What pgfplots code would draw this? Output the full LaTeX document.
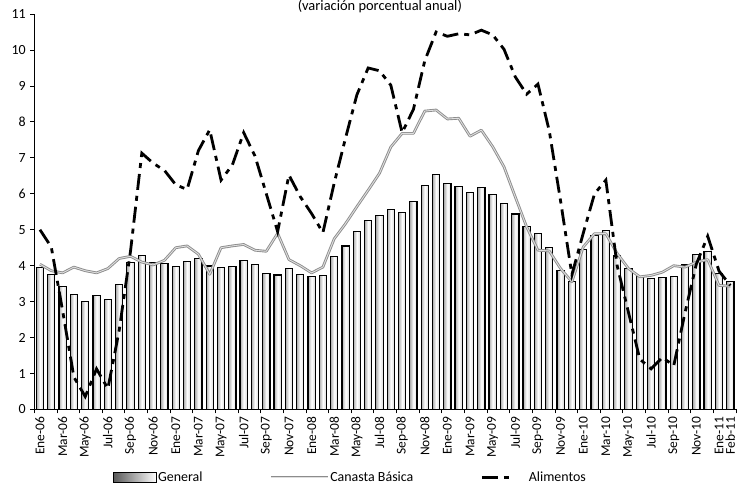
\documentclass[border=0pt]{standalone}
\usepackage{fontspec}
\setmainfont{Carlito}
\usepackage{pgfplots}
\usepackage{pgfplotstable}
\pgfplotsset{compat=1.18}
\pgfplotstableread{
i gen can ali
0 3.94 4.04 5.00
1 3.75 3.86 4.52
2 3.41 3.80 2.75
3 3.20 3.96 0.90
4 3.00 3.86 0.36
5 3.18 3.80 1.13
6 3.06 3.92 0.58
7 3.47 4.20 2.20
8 4.09 4.26 4.40
9 4.29 4.10 7.13
10 4.09 4.02 6.85
11 4.05 4.15 6.65
12 3.98 4.50 6.25
13 4.11 4.55 6.12
14 4.21 4.32 7.20
15 3.99 3.76 7.78
16 3.95 4.50 6.38
17 3.98 4.55 6.80
18 4.14 4.59 7.70
19 4.03 4.43 7.05
20 3.79 4.40 6.00
21 3.74 4.90 4.95
22 3.93 4.17 6.52
23 3.76 4.00 5.92
24 3.70 3.80 5.45
25 3.72 3.96 4.92
26 4.25 4.75 6.30
27 4.55 5.17 7.55
28 4.95 5.64 8.75
29 5.26 6.10 9.50
30 5.39 6.57 9.42
31 5.57 7.30 9.02
32 5.47 7.68 7.70
33 5.78 7.68 8.35
34 6.23 8.30 9.70
35 6.53 8.33 10.50
36 6.28 8.08 10.38
37 6.20 8.10 10.45
38 6.04 7.60 10.42
39 6.17 7.77 10.55
40 5.98 7.31 10.42
41 5.74 6.75 10.02
42 5.44 5.91 9.25
43 5.08 5.08 8.77
44 4.89 4.43 9.05
45 4.50 4.41 7.75
46 3.86 3.92 5.80
47 3.57 3.55 3.75
48 4.46 4.52 4.90
49 4.83 4.89 6.00
50 4.97 4.89 6.38
51 4.27 4.34 4.00
52 3.92 3.92 2.70
53 3.69 3.69 1.40
54 3.64 3.73 1.13
55 3.68 3.82 1.45
56 3.70 4.00 1.22
57 4.02 3.96 2.70
58 4.32 4.10 4.05
59 4.40 4.17 4.82
60 3.78 3.45 3.85
61 3.57 3.43 3.45
}\datatable
\tikzset{
  canasta/.style={draw=gray!90, double=gray!25, double distance=0.9bp, line width=0.9bp, line join=round},
  alim/.style={draw=black, line width=2.8bp, dash pattern=on 16bp off 6bp on 5bp off 6bp},
}
\begin{document}
\begin{tikzpicture}
\useasboundingbox (0,0) rectangle (743bp,487bp);
\begin{axis}[
  at={(34.3bp,77.5bp)}, anchor=south west,
  scale only axis, width=701.7bp, height=395.5bp,
  xmin=-0.5, xmax=61.5, ymin=0, ymax=11,
  axis lines*=left,
  axis line style={black, line width=0.8bp},
  tick align=outside,
  ytick={0,1,...,11},
  major tick length=4bp,
  minor tick length=4bp,
  y tick label style={font=\fontsize{14}{14}\selectfont, xshift=-1bp},
  /pgf/number format/assume math mode=true,
  xtick={0,2,4,6,8,10,12,14,16,18,20,22,24,26,28,30,32,34,36,38,40,42,44,46,48,50,52,54,56,58,60,61},
  xticklabels={Ene-06,Mar-06,May-06,Jul-06,Sep-06,Nov-06,Ene-07,Mar-07,May-07,Jul-07,Sep-07,Nov-07,Ene-08,Mar-08,May-08,Jul-08,Sep-08,Nov-08,Ene-09,Mar-09,May-09,Jul-09,Sep-09,Nov-09,Ene-10,Mar-10,May-10,Jul-10,Sep-10,Nov-10,Ene-11,Feb-11},
  every major x tick/.append style={draw=none},
  minor xtick={-0.5,1.5,...,61.5},
  x tick label style={font=\fontsize{13.5}{13.5}\selectfont, rotate=90, anchor=east, inner sep=3bp},
  xtick pos=bottom, ytick pos=left,
  tick style={black, line width=0.8bp},
  title={(variación porcentual anual)},
  title style={at={(0.4925,1)}, anchor=base, yshift=-2.5bp, font=\fontsize{14.5}{14.5}\selectfont},
  legend columns=3,
  legend style={at={(0.112,-0.171)}, anchor=west, draw=none, inner sep=0pt,
    font=\fontsize{14}{14}\selectfont,
    nodes={inner sep=1bp},
    /tikz/every even column/.append style={column sep=66bp}},
  legend cell align=left,
  unbounded coords=discard,
]
\addlegendimage{legend image code/.code={\draw[black, line width=1bp, left color=gray!70!black, right color=white] (0bp,-5bp) rectangle (43bp,5bp);}}
\addlegendentry{General}
\pgfplotsinvokeforeach{0,...,61}{
\addplot[ybar, bar width=0.64, draw=black, line width=1.2bp,
  left color=gray!65, right color=gray!30, middle color=white, forget plot,
  x filter/.expression={abs(x-#1)<0.1 ? x : nan}]
  table[x=i, y=gen] {\datatable};
}
\addplot[canasta, legend image code/.code={\draw[canasta] (0bp,0bp) -- (57bp,0bp);}]
  table[x=i, y=can] {\datatable};
\addlegendentry{Canasta Básica}
\addplot[alim, legend image code/.code={\path[draw=none] (0bp,0bp) -- (46bp,0bp); \draw[alim] (0bp,0bp) -- (27bp,0bp);}]
  table[x=i, y=ali] {\datatable};
\addlegendentry{Alimentos}
\end{axis}
\end{tikzpicture}
\end{document}
